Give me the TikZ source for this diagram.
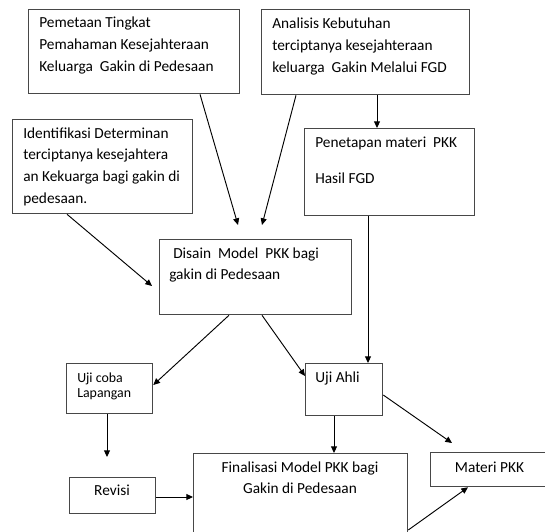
\documentclass[tikz,border=0pt]{standalone}
\usepackage{fontspec}
\setmainfont{Carlito}
\usetikzlibrary{arrows.meta,positioning}

\newcommand{\px}{0.75pt}
% top-aligned text blocks, baseline on the first line
\newcommand{\txtl}[1]{\begin{tabular}[t]{@{}l@{}}#1\end{tabular}}
\newcommand{\txtc}[1]{\begin{tabular}[t]{@{}c@{}}#1\end{tabular}}

\begin{document}
\begin{tikzpicture}[
    x=0.75pt, y=-0.75pt,
    box/.style={draw=black!72,line width=0.95pt,anchor=north west,inner sep=0pt},
    wh/.style 2 args={minimum width=#1*\px,minimum height=#2*\px},
    txt/.style={inner sep=0pt,anchor=base west,font=\fontsize{11.5}{16.3}\selectfont},
    ctxt/.style={inner sep=0pt,anchor=base,font=\fontsize{11.5}{15.75}\selectfont},
    small/.style={font=\fontsize{10.4}{11.3}\selectfont},
    link/.style={-{Triangle[length=5pt,width=4.5pt]},line width=0.7pt}
]
\useasboundingbox (0,0) rectangle (545,531);
\clip (0,0) rectangle (545,531);

% top row
\node[box,wh={211}{84}] (pemetaan) at (28,9) {};
\node[txt] (pemetaanT) at (39,28)
    {\txtl{Pemetaan Tingkat\\Pemahaman Kesejahteraan\\Keluarga\ \ Gakin di Pedesaan}};

\node[box,wh={208}{85}] (analisis) at (261,9) {};
\node[txt] (analisisT) at (272,29)
    {\txtl{Analisis Kebutuhan\\terciptanya kesejahteraan\\keluarga\ \ Gakin Melalui FGD}};

\node[box,wh={170}{87}] (penetapan) at (304,128) {};
\node[txt] (penetapanT) at (315,147) {\txtl{Penetapan materi\ \ PKK\\[10.7pt]Hasil FGD}};

\node[box,wh={180}{94}] (identifikasi) at (12,119) {};
\node[txt] (identifikasiT) at (23,138)
    {\txtl{Identifikasi Determinan\\terciptanya kesejahtera\\an Kekuarga bagi gakin di\\pedesaan.}};

% model
\node[box,wh={192}{75}] (disain) at (159,239) {};
\node[txt] (disainT) at (169,258)
    {\txtl{\hspace{3pt}Disain\ \ Model\ \ PKK bagi\\gakin di Pedesaan}};

% uji
\node[box,wh={86}{50}] (ujicoba) at (66,363) {};
\node[txt,small] (ujicobaT) at (77,382) {\txtl{Uji coba\\Lapangan}};

\node[box,wh={77}{52}] (ujiahli) at (305,363) {};
\node[txt] (ujiahliT) at (315,382) {Uji Ahli};

% bottom row
\node[box,wh={86}{36}] (revisi) at (69,477) {};
\node[ctxt] (revisiT) at (112,495) {Revisi};

\node[box,wh={214}{147}] (final) at (193,453) {};
\node[ctxt] (finalT) at (300,472) {\txtc{Finalisasi Model PKK bagi\\Gakin di Pedesaan}};

\node[box,wh={119}{34}] (materi) at (430,452) {};
\node[ctxt] (materiT) at (489.5,472) {Materi PKK};

% free arrow ends
\coordinate (inA) at (238,225);
\coordinate (inB) at (262,225);
\coordinate (inC) at (152,286);
\coordinate (toRevisi) at (107,457);
\coordinate (toMateri) at (452,443);

% connectors
\draw[link] (200,0 |- pemetaan.south) -- (inA);
\draw[link] (296,0 |- analisis.south) -- (inB);
\draw[link] (377,0 |- analisis.south) -- (377,0 |- penetapan.north);
\draw[link] (67,0 |- identifikasi.south) -- (inC);
\draw[link] (368,0 |- penetapan.south) -- (368,0 |- ujiahli.north);
\draw[link] (229,0 |- disain.south) -- (ujicoba.east |- 0,385);
\draw[link] (262,0 |- disain.south) -- (ujiahli.west |- 0,376);
\draw[link] (107,0 |- ujicoba.south) -- (toRevisi);
\draw[link] (revisi.east |- 0,497) -- (final.west |- 0,497);
\draw[link] (334,0 |- ujiahli.south) -- (334,0 |- final.north);
\draw[link] (ujiahli.east |- 0,395) -- (toMateri);
\draw[link] (final.east |- 0,530) -- (468,0 |- materi.south);

\end{tikzpicture}
\end{document}
